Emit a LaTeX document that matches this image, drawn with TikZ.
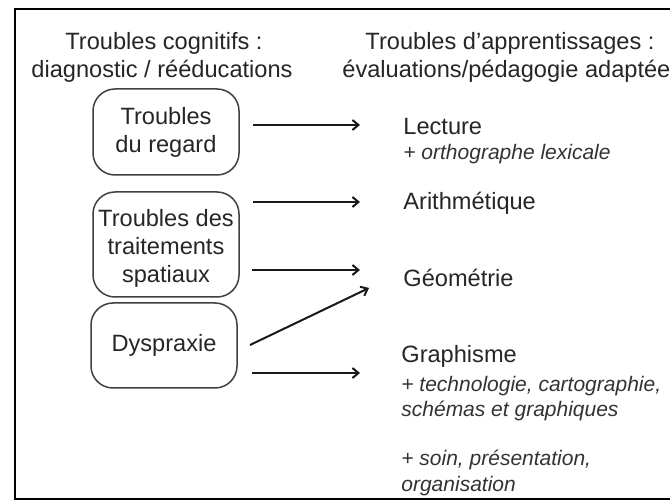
\documentclass[tikz,border=0pt]{standalone}
\usepackage{fontspec}
\setmainfont{Liberation Sans}
\usetikzlibrary{arrows.meta}
\begin{document}
\begin{tikzpicture}[x=0.5pt,y=-0.5pt,
  title/.style={inner sep=0pt, font=\fontsize{11.8}{14}\selectfont, text=black!85},
  box/.style={draw=black!75, line width=0.75pt, rounded corners=11pt, minimum width=73pt,
    align=center, inner sep=0pt, font=\fontsize{11.8}{14}\selectfont, text=black!85},
  lbl/.style={inner sep=0pt, anchor=base west, font=\fontsize{11.8}{14}\selectfont, text=black!85},
  sub/.style={inner sep=0pt, anchor=base west, font=\fontsize{10.5}{13}\selectfont\itshape, text=black!80},
  arr/.style={line width=1pt, draw=black!90, -{Straight Barb[length=3pt,width=5pt]}},
]
\useasboundingbox (0,0) rectangle (670,502);
\fill[white] (0,0) rectangle (670,502);
\draw[line width=1pt] (700,9) -- (15,9) -- (15,499) -- (700,499);

% titles
\node[title, anchor=base] (t1) at (164,50) {Troubles cognitifs :};
\node[title, anchor=base] (t2) at (162,78) {diagnostic / rééducations};
\node[title, anchor=base] (t3) at (510,50) {Troubles d’apprentissages :};
\node[title, anchor=base west] (t4) at (342,78) {évaluations/pédagogie adaptée};

% boxes
\node[box, minimum height=43pt] (b1) at (166,132) {Troubles\\du regard};
\node[box, minimum height=52.5pt] (b2) at (166,244.5) {\rule{0pt}{12.5pt}Troubles des\\traitements\\spatiaux};
\node[box, minimum height=42.5pt] (b3) at (164,345.5) {Dyspraxie};

% right column
\node[lbl] (lec) at (403,135) {Lecture};
\node[sub] (lecs) at (403,160) {+ orthographe lexicale};
\node[lbl] (ari) at (403,210) {Arithmétique};
\node[lbl] (geo) at (403,287) {Géométrie};
\node[lbl] (gra) at (401,363) {Graphisme};
\node[sub] (gra1) at (401,392) {+ technologie, cartographie,};
\node[sub] (gra2) at (401,417) {schémas et graphiques};
\node[sub] (gra3) at (401,466) {+ soin, présentation,};
\node[sub] (gra4) at (401,491) {organisation};

% arrow end points
\coordinate (s1) at (253,125); \coordinate (e1) at (360,125);
\coordinate (s2) at (253,202); \coordinate (e2) at (360,202);
\coordinate (s3) at (252,270); \coordinate (e3) at (360,270);
\coordinate (s4) at (250,345); \coordinate (e4) at (369,288);
\coordinate (s5) at (252,373); \coordinate (e5) at (360,373);

\draw[arr] (s1) -- (e1);
\draw[arr] (s2) -- (e2);
\draw[arr] (s3) -- (e3);
\draw[arr] (s4) -- (e4);
\draw[arr] (s5) -- (e5);
\end{tikzpicture}
\end{document}
